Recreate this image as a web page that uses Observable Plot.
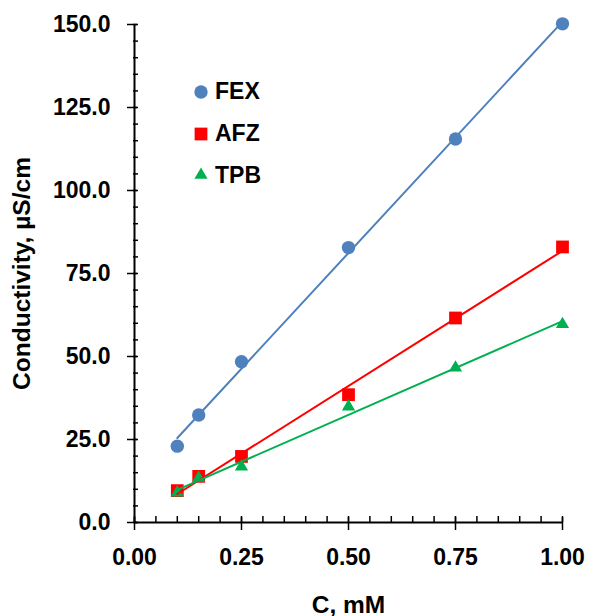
<!DOCTYPE html>
<html><head><meta charset="utf-8">
<script src="https://cdn.jsdelivr.net/npm/d3@7"></script>
<script src="https://cdn.jsdelivr.net/npm/@observablehq/plot@0.6"></script>
<style>
body{margin:0;background:#fff;font-family:"Liberation Sans",Arial,sans-serif;}
#wrap{position:relative;width:589px;height:616px;}
#legend{position:absolute;left:193px;top:71px;}
.item{display:flex;align-items:center;height:41.7px;font-weight:bold;font-size:23px;color:#000;}
.item svg{margin-right:6px;}
</style>
</head><body>
<div id="wrap"><div id="legend"></div></div>
<script>
const conc = [0.1, 0.15, 0.25, 0.5, 0.75, 1.0];
const fex = [23.0, 32.4, 48.4, 82.8, 115.5, 150.2];
const afz = [9.6, 13.9, 19.9, 38.5, 61.6, 83.0];
const tpb = [9.0, 13.4, 16.8, 34.9, 46.6, 59.7];
const seriesNames = ["FEX", "AFZ", "TPB"];
const seriesColors = ["#4F81BD", "#FF0000", "#00B050"];
const seriesSymbols = ["circle", "square", "triangle"];
const xTicks = [0, 0.25, 0.5, 0.75, 1.0];
const yTicks = [0, 25, 50, 75, 100, 125, 150];
const xMinor = d3.range(0, 21).map(i => i * 0.05);
const yMinor = d3.range(0, 31).map(i => i * 5);

const values = [fex, afz, tpb];
const symR = {circle: 6.7, square: 7.2, triangle: 4.9};
const rows = values.map(vs => conc.map((c, i) => ({c, v: vs[i]})));

const marks = [];
rows.forEach((data, k) => {
  marks.push(Plot.dot(data, {x: "c", y: "v", r: symR[seriesSymbols[k]], symbol: seriesSymbols[k], fill: seriesColors[k], stroke: "none"}));
});
rows.forEach((data, k) => {
  marks.push(Plot.linearRegressionY(data, {x: "c", y: "v", stroke: seriesColors[k], strokeWidth: 2, ci: 0}));
});

const chart = Plot.plot({
  width: 589,
  height: 616,
  marginLeft: 134,
  marginRight: 27,
  marginTop: 24,
  marginBottom: 94,
  style: {fontFamily: "'Liberation Sans', Arial, sans-serif", background: "#fff", overflow: "visible"},
  x: {domain: [0, 1]},
  y: {domain: [0, 150]},
  marks: [
    Plot.axisY(yMinor, {tickSize: 5, dx: 4, tickFormat: () => "", label: null, strokeWidth: 1.5}),
    Plot.axisY(yTicks, {tickSize: 10, dx: 3, tickFormat: () => "", label: null, strokeWidth: 1.5}),
    Plot.axisY(yTicks, {tickSize: 0, tickPadding: 24, tickFormat: d3.format(".1f"), fontSize: 23, fontWeight: "bold", label: null}),
    Plot.axisY([], {tickSize: 0, tickFormat: () => "", fontSize: 24.5, fontWeight: "bold",
      label: "Conductivity, µS/cm", labelAnchor: "center", labelOffset: 122, labelArrow: "none"}),
    Plot.axisX(xMinor, {tickSize: 6, dy: -6, tickFormat: () => "", label: null, strokeWidth: 1.5}),
    Plot.axisX(xTicks, {tickSize: 13, dy: -5, tickFormat: () => "", label: null, strokeWidth: 1.5}),
    Plot.axisX(xTicks, {tickSize: 0, tickPadding: 26, tickFormat: d3.format(".2f"), fontSize: 23, fontWeight: "bold", label: null}),
    Plot.axisX([], {tickSize: 0, tickFormat: () => "", fontSize: 24.5, fontWeight: "bold",
      label: "C, mM", labelAnchor: "center", labelOffset: 90, labelArrow: "none"}),
    Plot.ruleY([0], {stroke: "#000", strokeWidth: 2}),
    Plot.ruleX([0], {stroke: "#000", strokeWidth: 2}),
    ...marks
  ]
});
const wrap = document.getElementById("wrap");
wrap.insertBefore(chart, wrap.firstChild);

const legend = document.getElementById("legend");
seriesNames.forEach((name, k) => {
  const item = document.createElement("div");
  item.className = "item";
  const sym = seriesSymbols[k];
  const sz = 16;
  const s = d3.create("svg").attr("width", sz).attr("height", sz);
  s.append("path")
    .attr("transform", `translate(${sz/2},${sz/2})`)
    .attr("d", d3.symbol(sym === "circle" ? d3.symbolCircle : sym === "square" ? d3.symbolSquare : d3.symbolTriangle, Math.PI * symR[sym] ** 2)())
    .attr("fill", seriesColors[k]);
  item.appendChild(s.node());
  const t = document.createElement("span");
  t.textContent = name;
  item.appendChild(t);
  legend.appendChild(item);
});
</script>
</body></html>
